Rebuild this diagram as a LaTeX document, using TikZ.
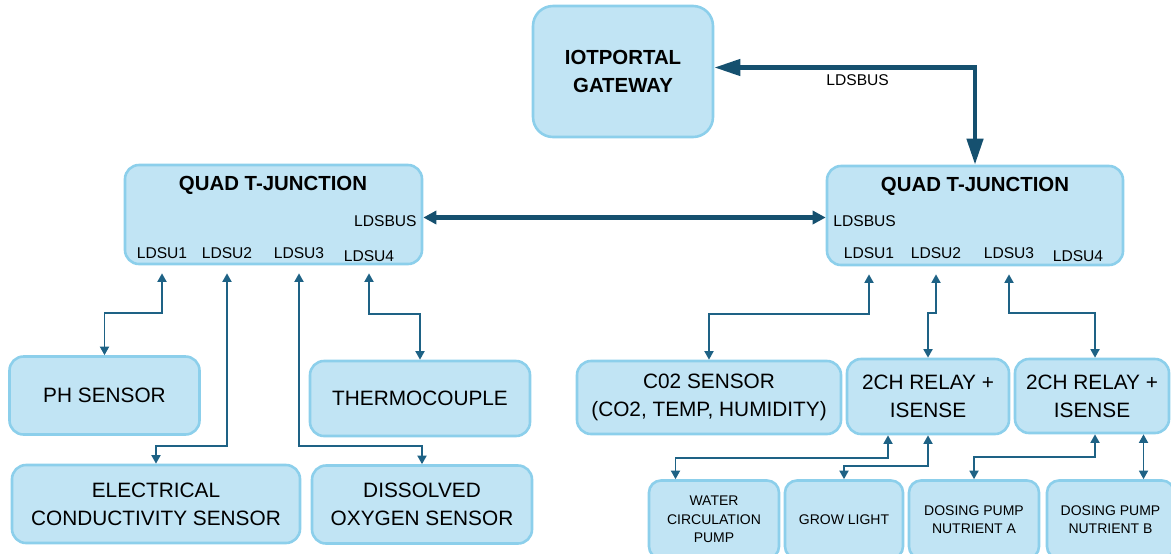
\documentclass[tikz,border=0pt]{standalone}
\usepackage{fontspec}
\setmainfont{Liberation Sans}
\usetikzlibrary{arrows.meta,positioning,calc}
\definecolor{boxfill}{HTML}{C1E4F4}
\definecolor{boxline}{HTML}{8CCFEB}
\definecolor{linkcol}{HTML}{1E6285}
\definecolor{buscol}{HTML}{15506F}
\tikzset{>=latex}
\tikzset{
  box/.style={draw=boxline, fill=boxfill, line width=1.3pt, rounded corners=7pt,
    align=center, inner sep=0pt},
  bigtxt/.style={font=\fontsize{10.4}{14}\selectfont},
  smalltxt/.style={font=\fontsize{7}{9.3}\selectfont},
  titletxt/.style={font=\fontsize{10.2}{14}\selectfont\bfseries, inner sep=0pt},
  port/.style={font=\fontsize{7.8}{9}\selectfont, inner sep=0pt},
  link/.style={draw=linkcol, line width=0.9pt,
    {Triangle[length=4.3pt,width=4.5pt]}-{Triangle[length=4.3pt,width=4.5pt]}},
  % thick LDSBUS lines
  bus/.style={draw=buscol, line width=2.2pt,
    {Triangle[length=13pt,width=8pt]}-{Triangle[length=13pt,width=8pt]}},
  busshort/.style={draw=buscol, line width=2.2pt,
    {Triangle[length=6.5pt,width=6.5pt]}-{Triangle[length=6.5pt,width=6.5pt]}},
}
\begin{document}
\begin{tikzpicture}[x=0.5pt,y=-0.5pt]
  \useasboundingbox (0,0) rectangle (1171,553);

  % gateway and junctions
  \node[box, titletxt, rounded corners=10pt, minimum width=90pt, minimum height=65.5pt]
    (gw) at (623,71.5) {IOTPORTAL\\GATEWAY};
  \node[box, minimum width=148.5pt, minimum height=49.5pt] (lq) at (273.5,214.5) {};
  \node[box, minimum width=148pt, minimum height=49.5pt] (rq) at (975,215.5) {};

  \node[titletxt] (lqt) at (273,185) {QUAD T-JUNCTION};
  \node[titletxt] (rqt) at (975,186) {QUAD T-JUNCTION};
  \node[port, anchor=east] (lbus) at (417,221) {LDSBUS};
  \node[port, anchor=west] (rbus) at (833,221) {LDSBUS};
  \node[port] (lu1) at (162,253) {LDSU1};
  \node[port] (lu2) at (227,253) {LDSU2};
  \node[port] (lu3) at (299,253) {LDSU3};
  \node[port] (lu4) at (369,256) {LDSU4};
  \node[port] (ru1) at (869,253) {LDSU1};
  \node[port] (ru2) at (936,253) {LDSU2};
  \node[port] (ru3) at (1009,253) {LDSU3};
  \node[port] (ru4) at (1078,256) {LDSU4};

  % sensors, left side
  \node[box, bigtxt, minimum width=95pt, minimum height=39pt] (ph) at (104.5,395.5) {PH SENSOR};
  \node[box, bigtxt, minimum width=110pt, minimum height=37.5pt] (th) at (420,398.5) {THERMOCOUPLE};
  \node[box, bigtxt, minimum width=144pt, minimum height=39pt] (ec) at (156,504)
    {ELECTRICAL\\CONDUCTIVITY SENSOR};
  \node[box, bigtxt, minimum width=110pt, minimum height=39pt] (do) at (422,504.5)
    {DISSOLVED\\OXYGEN SENSOR};

  % right side
  \node[box, bigtxt, minimum width=132pt, minimum height=36.5pt] (co2) at (709,397.5)
    {C02 SENSOR\\(CO2, TEMP, HUMIDITY)};
  \node[box, bigtxt, minimum width=81pt, minimum height=37.5pt] (r1) at (928,396.5)
    {2CH RELAY +\\ISENSE};
  \node[box, bigtxt, minimum width=77pt, minimum height=37pt] (r2) at (1092,396)
    {2CH RELAY +\\ISENSE};

  \node[box, smalltxt, rounded corners=6pt, minimum width=65pt, minimum height=39pt] (wp) at (714,519.5)
    {WATER\\CIRCULATION\\PUMP};
  \node[box, smalltxt, rounded corners=6pt, minimum width=59pt, minimum height=39pt] (gl) at (844,519.5)
    {GROW LIGHT};
  \node[box, smalltxt, rounded corners=6pt, minimum width=65pt, minimum height=39pt] (da) at (974,519.5)
    {DOSING PUMP\\NUTRIENT A};
  \node[box, smalltxt, rounded corners=6pt, minimum width=63.5pt, minimum height=39pt] (db) at (1110.5,519.5)
    {DOSING PUMP\\NUTRIENT B};

  % LDSBUS
  \draw[bus] ([yshift=2pt]gw.east) -| (rq.north)
    node[pos=0.275, below=2.5pt, port] (buslbl) {LDSBUS};
  \draw[busshort] ([yshift=-1.5pt]lq.east) -- ([yshift=-1.5pt]lq.east -| rq.west);

  % left links
  \draw[link, shorten <=4pt] (lu1 |- lq.south) -- (lu1 |- 0,313) -| (ph.north);
  \draw[link, shorten <=4pt] (lu2 |- lq.south) -- (lu2 |- 0,446) -| (ec.north);
  \draw[link, shorten <=4pt] (lu3 |- lq.south) -- (lu3 |- 0,446) -| (do.north);
  \draw[link, shorten <=4pt] (lu4 |- lq.south) -- (lu4 |- 0,314) -| (th.north);

  % right links
  \draw[link, shorten <=4pt] (ru1 |- rq.south) -- (ru1 |- 0,314) -| (co2.north);
  \draw[link, shorten <=4pt] (ru2 |- rq.south) -- (ru2 |- 0,313) -| (r1.north);
  \draw[link, shorten <=4pt] (ru3 |- rq.south) -- (ru3 |- 0,313) -| ([xshift=1.5pt]r2.north);

  \draw[link] ([xshift=-20pt]r1.south) -- ++(0,23) -| ([xshift=-19.25pt]wp.north);
  \draw[link] (r1.south) -- ++(0,31) -| (gl.north);
  \draw[link] ([xshift=1.5pt]r2.south) -- ++(0,23) -| (da.north);
  \draw[link] ([xshift=25.75pt]r2.south) -- ([xshift=25.75pt]r2.south |- db.north);
\end{tikzpicture}
\end{document}
